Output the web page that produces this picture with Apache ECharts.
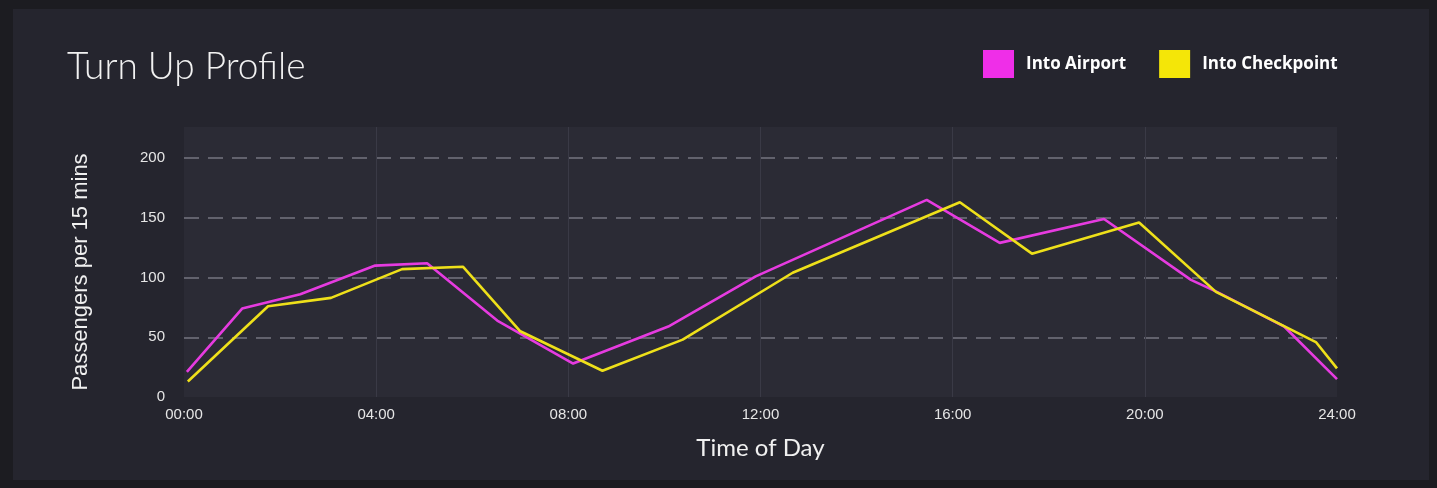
<!DOCTYPE html>
<html>
<head>
<meta charset="utf-8">
<script src="https://cdn.jsdelivr.net/npm/echarts@6/dist/echarts.min.js"></script>
<style>
  html, body { margin: 0; padding: 0; background: #1c1c21; }
  #wrap { position: relative; width: 1437px; height: 488px; }
  #card { position: absolute; left: 13px; top: 9px; width: 1416px; height: 471px; background: #25252e; }
  #chart { position: absolute; left: 0; top: 0; width: 1437px; height: 488px; }
</style>
</head>
<body>
<div id="wrap"><div id="card"></div><div id="chart"></div></div>
<script>
// Data (hour of day, passengers per 15 mins)
const airportHours = [0.06, 1.21, 2.42, 3.98, 5.06, 6.52, 8.10, 10.08, 11.9, 15.46, 16.98, 19.15, 20.96, 21.5, 22.9, 24.0];
const airportValues = [21, 74, 86, 110, 112, 64, 28, 59, 101, 165, 129, 149, 98, 88, 59, 15];
const checkpointHours = [0.08, 1.75, 3.06, 4.54, 5.81, 7.0, 8.71, 10.38, 12.67, 16.15, 17.65, 19.88, 21.48, 23.56, 24.0];
const checkpointValues = [13, 76, 83, 107, 109, 55, 22, 48, 104, 163, 120, 146, 88, 46, 24];
const seriesNames = ['Into Airport', 'Into Checkpoint'];
const xTickHours = [0, 4, 8, 12, 16, 20, 24];
const yTickValues = [0, 50, 100, 150, 200];

const pairs = (xs, ys) => xs.map((x, i) => [x, ys[i]]);
const fmtHour = v => (v < 10 ? '0' : '') + v + ':00';

const chart = echarts.init(document.getElementById('chart'), null, { renderer: 'canvas' });
chart.setOption({
  backgroundColor: 'transparent',
  animation: false,
  title: {
    text: 'Turn Up Profile',
    left: 67, top: 49, padding: 0,
    textStyle: { color: '#f2f2f2', fontFamily: 'Lato', fontWeight: 300, fontSize: 37 }
  },
  legend: {
    left: 983, top: 50, padding: 0,
    icon: 'rect',
    itemWidth: 31, itemHeight: 28, itemGap: 33,
    data: seriesNames,
    textStyle: { color: '#ffffff', fontFamily: 'Open Sans', fontWeight: 'bold', fontSize: 17, padding: [0, 0, 0, 7] }
  },
  grid: {
    left: 184, right: 100, top: 127, bottom: 91,
    show: true, backgroundColor: '#2b2b35', borderWidth: 0
  },
  xAxis: {
    type: 'value',
    min: 0, max: 24, interval: 4,
    name: 'Time of Day',
    nameLocation: 'middle', nameGap: 39,
    nameTextStyle: { color: '#f0f0f0', fontFamily: 'Lato', fontSize: 24, fontWeight: 400 },
    axisLine: { show: false }, axisTick: { show: false },
    axisLabel: {
      color: '#e6e6e6', fontFamily: 'Liberation Sans', fontSize: 15, margin: 10,
      formatter: v => xTickHours.includes(v) ? fmtHour(v) : ''
    },
    splitLine: { show: true, showMinLine: false, showMaxLine: false, lineStyle: { color: '#3a3a46', width: 1 } }
  },
  yAxis: {
    type: 'value',
    min: 0, max: 226, interval: 50,
    name: 'Passengers per 15 mins',
    nameLocation: 'middle', nameGap: 92, nameRotate: 90,
    nameTextStyle: { color: '#f0f0f0', fontFamily: 'Liberation Sans', fontSize: 22, padding: [0, 20, 0, 0] },
    axisLine: { show: false }, axisTick: { show: false },
    axisLabel: {
      color: '#e6e6e6', fontFamily: 'Liberation Sans', fontSize: 15, margin: 19,
      showMaxLabel: false,
      formatter: v => yTickValues.includes(v) ? String(v) : ''
    },
    splitLine: { show: true, showMinLine: false, showMaxLine: false, lineStyle: { color: '#62626d', width: 2, type: [15, 9] } }
  },
  series: [
    {
      name: seriesNames[0], type: 'line', data: pairs(airportHours, airportValues),
      showSymbol: false, symbol: 'none',
      lineStyle: { color: '#e63be0', width: 2.6 },
      itemStyle: { color: '#ef2ee8' }
    },
    {
      name: seriesNames[1], type: 'line', data: pairs(checkpointHours, checkpointValues),
      showSymbol: false, symbol: 'none',
      lineStyle: { color: '#eee01a', width: 2.6 },
      itemStyle: { color: '#f4e608' }
    }
  ]
});
</script>
</body>
</html>
